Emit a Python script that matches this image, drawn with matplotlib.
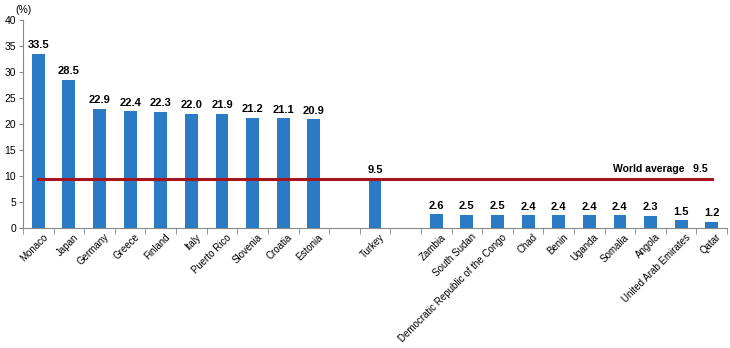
import numpy as np
import matplotlib.pyplot as plt
from matplotlib.transforms import ScaledTranslation

plt.rcParams['font.family'] = ['Liberation Sans', 'DejaVu Sans']

high_countries = ['Monaco', 'Japan', 'Germany', 'Greece', 'Finland', 'Italy',
                  'Puerto Rico', 'Slovenia', 'Croatia', 'Estonia']
high_values = [33.5, 28.5, 22.9, 22.4, 22.3, 22.0, 21.9, 21.2, 21.1, 20.9]
turkey_value = 9.5
low_countries = ['Zambia', 'South Sudan', 'Democratic Republic of the Congo', 'Chad',
                 'Benin', 'Uganda', 'Somalia', 'Angola', 'United Arab Emirates', 'Qatar']
low_values = [2.6, 2.5, 2.5, 2.4, 2.4, 2.4, 2.4, 2.3, 1.5, 1.2]
world_average = 9.5

# one empty slot on each side of Turkey
labels = high_countries + ['', 'Turkey', ''] + low_countries
values = high_values + [np.nan, turkey_value, np.nan] + low_values
x = np.arange(len(labels))

fig = plt.figure(figsize=(7.3, 3.48), dpi=100)
ax = fig.add_axes([0.0315, 0.345, 0.9645, 0.5975])

bar_color = '#2A7BC4'
ax.bar(x, values, width=0.42, color=bar_color, zorder=2)

for xi, v in zip(x, values):
    if np.isnan(v):
        continue
    ax.text(xi, v + 0.7, f'{v:.1f}', ha='center', va='bottom',
            fontsize=8, fontweight='bold', color='black', zorder=4)

ax.plot([x[0], x[-1]], [world_average, world_average], color='#A5151E', lw=2.2, zorder=3)
ax.text(x[-1] - 0.15, world_average + 0.9, f'World average   {world_average:.1f}',
        ha='right', va='bottom', fontsize=7.5, fontweight='bold')

ax.set_xlim(-0.5, len(labels) - 0.5)
ax.set_ylim(0, 40)
ax.set_yticks(np.arange(0, 41, 5))
ax.tick_params(axis='y', labelsize=7.5, length=3, color='#888888', pad=2)

ax.set_xticks(x)
ax.set_xticklabels(labels, rotation=45, ha='right', rotation_mode='anchor', fontsize=7)
ax.set_xticks(np.arange(-0.5, len(labels), 1), minor=True)
ax.tick_params(axis='x', which='major', length=0, pad=3)
ax.tick_params(axis='x', which='minor', length=4, color='#888888')
shift = ScaledTranslation(3 / 72, 0, fig.dpi_scale_trans)
for lbl in ax.get_xticklabels():
    lbl.set_transform(lbl.get_transform() + shift)

for side in ['top', 'right']:
    ax.spines[side].set_visible(False)
for side in ['left', 'bottom']:
    ax.spines[side].set_color('#888888')
    ax.spines[side].set_linewidth(0.8)

fig.text(0.021, 0.97, '(%)', fontsize=7.5, ha='left', va='center')

fig.savefig('out.png', dpi=100)
